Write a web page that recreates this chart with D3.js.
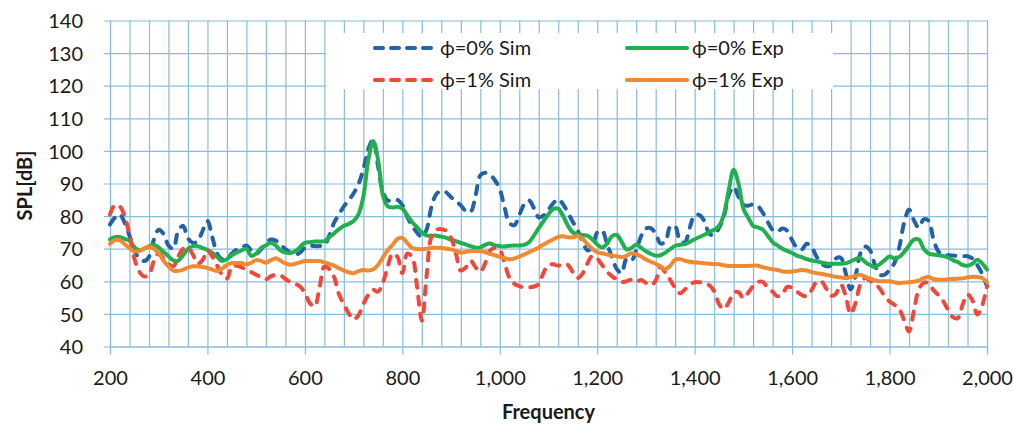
<!DOCTYPE html>
<html>
<head>
<meta charset="utf-8">
<script src="https://cdn.jsdelivr.net/npm/d3@7"></script>
<style>
  html, body { margin: 0; padding: 0; background: #fff; }
  svg text { font-family: Lato, "Open Sans", "DejaVu Sans", sans-serif; fill: #1a1a1a; }
</style>
</head>
<body>
<svg id="chart" width="1013" height="428"></svg>
<script>
// Frequency grid (Hz): 200 .. 2000 in 10 Hz steps
const freqStart = 200, freqStep = 10;

// SPL [dB] for each series, one value per 10 Hz
const sim0 = [
  77.4,79.5,80.5,78,74,69.5,67,66.2,67.5,72.8,
  75.8,74.5,71,70,75.5,77,73.2,71.8,72.3,75.5,
  78.5,73.5,68.5,66.7,67,68.5,69.7,70.3,71,69.5,
  68.5,69.8,71.8,72.8,72.5,71.2,69.9,68.8,68.2,68.8,
  70.3,70.9,70.8,70.8,71,74,78,80.5,83,84.8,
  87,89.8,94.4,100.5,103.5,95.5,87.5,84.8,85,85,
  83.4,79.8,77,75,73.6,76,83,86.8,87.7,87.3,
  85.8,84.6,83.3,81.6,81.3,86,92.5,93.3,92.7,91,
  88.3,82.5,77.8,77.2,80.3,83.6,84.8,82.5,79.6,80.2,
  82,84,85.2,83.6,81,78.2,75.6,72.2,69.5,70.5,
  75,75.6,71.5,67.5,63.8,62.5,66.8,66.3,69.5,73.8,
  76.2,76.3,74.6,71.6,72.2,76.8,76.8,72.5,72,76.5,
  80.3,80.3,78.4,74.6,74.2,76.4,79.8,86.5,89,85.9,
  83.5,83.2,83.6,83,81,78.2,75.8,75.2,76.2,75.5,
  72.6,70.3,69.8,71.5,70.5,67.6,65.5,64.6,65,67,
  67.2,62.5,57.5,61.5,68.5,70.7,69.5,65,62,62,
  63.6,65.6,70.5,78,82,78.7,76.5,79,78.6,73,
  69.2,68.1,68,67.9,67.8,67.7,67.7,67,65,62.3,
  58.5
];

const exp0 = [
  72.8,73.5,73.6,73,72.5,70.5,69.5,70,70.7,71.2,
  70.3,69,67.7,66.4,66.3,68,70,70.8,70.8,70.2,
  69.6,68.7,67.5,66.2,66.8,68,68.8,69.5,70,67.8,
  68.5,70.2,71,71.8,71,69.5,68.8,68.7,69.2,70.5,
  71.8,72,72.2,72.2,72.3,73.5,74.7,76,77,77.6,
  78.5,80.5,86,97,103,97.5,86.5,83,82.6,82.9,
  82.3,80.3,78.2,76.6,75,74,74,74,73.7,73.3,
  72.8,72.3,71.8,71.3,70.8,70.3,70.4,71.2,71.6,71,
  70.8,70.7,70.9,71,71,71.2,72,74,76.3,78.5,
  80.6,82.2,82.3,80,77,75,74.4,74.2,74,72.8,
  71.3,70.4,71.5,73.8,74.2,72.2,69.8,70.2,71.3,70.3,
  69.2,68.4,67.9,68,68.8,69.9,70.9,71.2,71.4,72.1,
  72.9,73.6,74.3,75.1,75.8,77,80.5,88,94.2,90,
  82.3,79.5,77,76.5,75.8,74,72,71,70,69.3,
  68.7,67.9,67.4,66.8,66.4,66.1,65.8,65.5,65.4,65.4,
  65.4,65.5,66.1,66.8,67.2,65.9,65,64.4,65.3,66.5,
  67.6,67,67.5,69,71,72.8,72.8,70,68.5,68.2,
  68,67.8,67.3,66.5,65.9,65,64.8,65.4,66.6,65.5,
  63.6
];

const sim1 = [
  80.5,83.4,83,80,74.3,67,63,61.5,62,66.2,
  68.6,67,65.3,64.6,67.6,70,70.3,68.2,65.4,66.5,
  69.5,67.6,64.8,62,60.8,64.5,64.8,64.3,63.6,62.8,
  62,61.3,60.6,61.5,62,61.8,60.7,59.8,59.2,58.4,
  56.4,53.3,52.3,58,64.5,63.8,61.3,56,53,50.2,
  48.3,49.6,53,55.8,57.4,56.8,59.5,64.5,68.5,67.5,
  62.5,68.5,67.5,58.6,47.9,62,73.8,75.8,76,75.5,
  73.3,68.6,63.3,64.2,66.3,64.4,62.9,65.5,69.4,70.2,
  69.6,65.5,61,59.2,58.5,58.1,58.1,58.4,59.1,62.7,
  65,65.2,64.8,65.3,65,62.8,61,62.4,65.5,67.8,
  67,65,63,61.6,60.6,59.8,60,60.5,59.8,60.4,
  59.5,58.8,60.2,64.5,62.6,60.4,58,56.3,57.5,58.9,
  59.7,59.7,59.6,58.8,57,53,51.5,53.5,56.5,56.7,
  54.8,56.5,58.5,59.8,59.8,58,56.8,55.4,56.1,58.3,
  58,56.8,55.8,55.4,57.3,59.8,60,57.8,55.5,56.2,
  59,55.5,50,53.3,59,61,60.2,59.2,57.8,55.4,
  53.8,52.8,51.5,48,44.6,51,57.5,59.5,59.5,57.3,
  55.8,53.9,51.3,49,48.7,52.8,56,54.2,49.8,52.5,
  58.5
];

const exp1 = [
  71.5,72.6,72.6,71.4,70.2,69.2,69.3,70,70.7,70,
  68.6,66.3,64.6,63.3,63.2,63.6,64.2,64.6,64.6,64.4,
  64.1,63.6,63.1,63.9,65,65.6,65.6,65.6,65.2,65.7,
  66.5,66.3,65.7,66.5,67.1,66.3,65.5,65.1,65.4,65.8,
  66.2,66.2,66.2,66.2,65.8,65.3,64.8,64,63.3,62.8,
  62.5,63.1,63.5,63.3,63.6,65,67.3,69.5,71.2,73,
  73.3,71.8,70.2,69.9,69.8,70,70.3,70.3,70.3,70,
  69.8,69.3,68.8,69,69.3,69.3,69.3,68.9,68.4,68,
  67.5,67.1,66.8,67,67.6,68.2,68.9,69.6,70.4,71.3,
  72.1,72.9,73.6,73.8,73.5,73.5,73.9,73,71.4,70,
  68.9,68.6,68.2,67.9,67.7,67.4,67.8,68.6,68.3,67.6,
  66.7,66,65.4,64.6,63.7,64.8,66.6,66.8,66.3,66,
  65.8,65.7,65.5,65.4,65.3,65.2,64.9,64.7,64.7,64.7,
  64.7,64.7,64.8,64.8,64.3,64,63.7,63.5,63,62.9,
  63,63.2,63.5,63.3,62.8,62.5,62.3,62,61.7,61.4,
  61.2,61,61.3,61.6,62,61.4,60.8,60.3,60,60,
  60,59.7,59.5,59.6,59.7,59.9,60.2,61,61.3,60.7,
  60.5,60.5,60.6,60.7,60.8,60.9,61.2,61.4,61.3,61,
  59.7
];

const seriesNames = ["\u03D5=0% Sim", "\u03D5=0% Exp", "\u03D5=1% Sim", "\u03D5=1% Exp"];
const xTickValues = [200, 400, 600, 800, 1000, 1200, 1400, 1600, 1800, 2000];
const yTickValues = [40, 50, 60, 70, 80, 90, 100, 110, 120, 130, 140];

const series = [
  { name: seriesNames[0], values: sim0, color: "#2462a8", dashed: true },
  { name: seriesNames[1], values: exp0, color: "#22b04e", dashed: false },
  { name: seriesNames[2], values: sim1, color: "#f2473b", dashed: true },
  { name: seriesNames[3], values: exp1, color: "#f08a32", dashed: false }
];

const svg = d3.select("#chart");
const plotLeft = 110, plotRight = 987, plotTop = 20.5, plotBottom = 346.5;

const x = d3.scaleLinear().domain([200, 2000]).range([plotLeft, plotRight]);
const y = d3.scaleLinear().domain([40, 140]).range([plotBottom, plotTop]);

const gridColor = "#88bcdb";

// vertical grid every 40 Hz
svg.append("g")
  .attr("transform", `translate(0,${plotBottom})`)
  .call(d3.axisBottom(x).tickValues(d3.range(200, 2001, 40)).tickSize(-(plotBottom - plotTop)).tickFormat(""))
  .call(g => g.select(".domain").remove())
  .call(g => g.selectAll("line").attr("stroke", gridColor).attr("stroke-width", 1.2));

// horizontal grid every 10 dB, with short outside ticks
svg.append("g")
  .attr("transform", `translate(${plotLeft - 6},0)`)
  .call(d3.axisLeft(y).tickValues(yTickValues).tickSize(-(plotRight - plotLeft + 6)).tickFormat(""))
  .call(g => g.select(".domain").remove())
  .call(g => g.selectAll("line").attr("stroke", gridColor).attr("stroke-width", 1.2));

// major x ticks and labels
svg.append("g")
  .attr("transform", `translate(0,${plotBottom})`)
  .call(d3.axisBottom(x).tickValues(xTickValues).tickSize(8).tickFormat(d3.format(",")))
  .call(g => g.select(".domain").attr("stroke", gridColor).attr("stroke-width", 1.2))
  .call(g => g.selectAll("line").attr("stroke", gridColor).attr("stroke-width", 1.2))
  .call(g => g.selectAll("text").attr("y", 38).attr("dy", 0)
    .style("font-size", "20px").style("font-family", "Lato, 'Open Sans', sans-serif").attr("fill", "#1a1a1a"));

// y labels
svg.append("g")
  .attr("transform", `translate(${plotLeft},0)`)
  .call(d3.axisLeft(y).tickValues(yTickValues).tickSize(0).tickPadding(27))
  .call(g => g.select(".domain").attr("stroke", gridColor).attr("stroke-width", 1.2))
  .call(g => g.selectAll("text").attr("dy", "0.36em")
    .style("font-size", "20px").style("font-family", "Lato, 'Open Sans', sans-serif").attr("fill", "#1a1a1a"));

// data lines
const line = d3.line()
  .x((d, i) => x(freqStart + i * freqStep))
  .y(d => y(d))
  .curve(d3.curveCatmullRom.alpha(0.5));

const lineLayer = svg.append("g");
series.forEach(s => {
  lineLayer.append("path")
    .datum(s.values)
    .attr("fill", "none")
    .attr("stroke", s.color)
    .attr("stroke-width", 4)
    .attr("stroke-linejoin", "round")
    .attr("stroke-linecap", "round")
    .attr("stroke-dasharray", s.dashed ? "8,9" : null)
    .attr("d", line);
});

// legend
const legend = svg.append("g");
legend.append("rect")
  .attr("x", 326).attr("y", 33).attr("width", 507).attr("height", 56)
  .attr("fill", "#fff");

const legendPos = [
  { x: 375, y: 48 }, { x: 627, y: 48 },
  { x: 375, y: 80 }, { x: 627, y: 80 }
];
series.forEach((s, i) => {
  const p = legendPos[i];
  legend.append("line")
    .attr("x1", p.x).attr("x2", p.x + 60)
    .attr("y1", p.y).attr("y2", p.y)
    .attr("stroke", s.color).attr("stroke-width", 4)
    .attr("stroke-linecap", "round")
    .attr("stroke-dasharray", s.dashed ? "8,8" : null);
  legend.append("text")
    .attr("x", p.x + 65).attr("y", p.y).attr("dy", "0.36em")
    .style("font-size", "20px")
    .text(s.name);
});

// axis titles
svg.append("text")
  .attr("x", (plotLeft + plotRight) / 2).attr("y", 419)
  .attr("text-anchor", "middle")
  .style("font-size", "20px").style("font-weight", "bold")
  .text("Frequency");

svg.append("text")
  .attr("transform", `translate(32,${(plotTop + plotBottom) / 2 + 2}) rotate(-90)`)
  .attr("text-anchor", "middle")
  .style("font-size", "20px").style("font-weight", "bold")
  .text("SPL[dB]");
</script>
</body>
</html>
